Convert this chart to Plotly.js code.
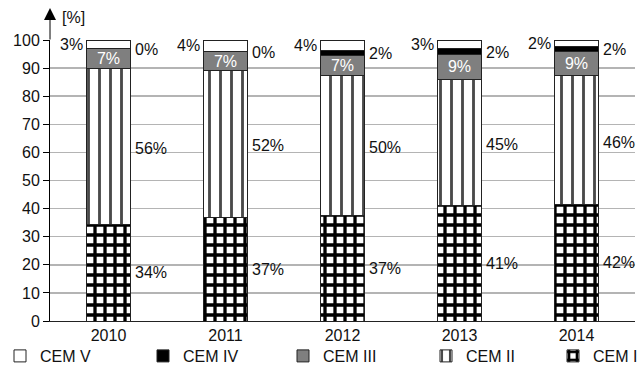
<!DOCTYPE html>
<html>
<head>
<meta charset="utf-8">
<script src="https://cdn.plot.ly/plotly-3.0.1.min.js"></script>
<style>html,body{margin:0;padding:0;background:#fff;}#chart{width:640px;height:373px;}</style>
</head>
<body>
<div id="chart"></div>
<script>
var years = ['2010', '2011', '2012', '2013', '2014'];
var cemI   = [34.2, 37.0, 37.4, 41.0, 41.6];
var cemII  = [55.6, 52.0, 50.0, 45.0, 45.6];
var cemIII = [7.2, 7.0, 7.0, 9.0, 8.6];
var cemIV  = [0.0, 0.0, 2.0, 2.0, 2.0];
var cemV   = [3.0, 4.0, 3.6, 3.0, 2.2];
var yTicks = [0, 10, 20, 30, 40, 50, 60, 70, 80, 90, 100];

var FONT = 'Liberation Sans, Arial, sans-serif';
var BARW = 0.376;
var outline = {color: '#222', width: 1};

function pct(v) { return Math.round(v) + '%'; }

var traces = [
  {name: 'CEM I', legend: 'legend5', type: 'bar', x: years, y: cemI, width: BARW,
   marker: {color: '#fff', line: outline, pattern: {shape: '+', fgcolor: '#000', bgcolor: '#fff', size: 10, solidity: 0.55}},
   textposition: 'none', hoverinfo: 'none'},
  {name: 'CEM II', legend: 'legend4', type: 'bar', x: years, y: cemII, width: BARW,
   marker: {color: '#fff', line: outline, pattern: {shape: '|', fgcolor: '#4a4a4a', bgcolor: '#fff', size: 11, solidity: 0.26}},
   textposition: 'none', hoverinfo: 'none'},
  {name: 'CEM III', legend: 'legend3', type: 'bar', x: years, y: cemIII, width: BARW,
   marker: {color: '#7f7f7f', line: outline},
   text: cemIII.map(pct), textposition: 'inside', insidetextanchor: 'middle', constraintext: 'none',
   textfont: {color: '#fff', size: 16, family: FONT}, hoverinfo: 'none'},
  {name: 'CEM IV', legend: 'legend2', type: 'bar', x: years, y: cemIV, width: BARW,
   marker: {color: '#000', line: outline},
   textposition: 'none', hoverinfo: 'none'},
  {name: 'CEM V', legend: 'legend', type: 'bar', x: years, y: cemV, width: BARW,
   marker: {color: '#fff', line: outline},
   textposition: 'none', hoverinfo: 'none'}
];

var ann = [];
years.forEach(function (yr, i) {
  var c1 = cemI[i], c2 = c1 + cemII[i], c3 = c2 + cemIII[i], c4 = c3 + cemIV[i];
  var right = i + BARW / 2, left = i - BARW / 2;
  var base = {xref: 'x', yref: 'y', showarrow: false, font: {size: 16, color: '#111', family: FONT}};
  ann.push(Object.assign({}, base, {x: right, y: c1 / 2, text: pct(cemI[i]), xanchor: 'left', xshift: 2, yanchor: 'middle'}));
  ann.push(Object.assign({}, base, {x: right, y: c1 + cemII[i] / 2, text: pct(cemII[i]), xanchor: 'left', xshift: 2, yanchor: 'middle', yshift: -2}));
  ann.push(Object.assign({}, base, {x: right, y: c3 + cemIV[i] / 2, text: pct(cemIV[i]), xanchor: 'left', xshift: 2, yanchor: 'middle', yshift: -1}));
  ann.push(Object.assign({}, base, {x: left, y: c4 + cemV[i] / 2, text: pct(cemV[i]), xanchor: 'right', xshift: -2, yanchor: 'middle'}));
});
// y-axis arrow and unit
ann.push({xref: 'paper', yref: 'paper', x: 0, y: 1 + 32 / 281, ax: 0, ay: 33, axref: 'pixel', ayref: 'pixel',
  showarrow: true, arrowhead: 2, arrowsize: 2.4, arrowwidth: 1, arrowcolor: '#000', text: '', standoff: 0});
ann.push({xref: 'paper', yref: 'paper', x: 0, y: 1, xanchor: 'left', yanchor: 'bottom', xshift: 10, yshift: 12,
  text: '[%]', showarrow: false, font: {size: 16, color: '#111', family: FONT}});

function legendAt(px) {
  return {orientation: 'h', xref: 'container', yref: 'container', x: px / 640, xanchor: 'left',
          y: 17 / 373, yanchor: 'middle', bgcolor: 'rgba(0,0,0,0)',
          font: {size: 16, family: FONT, color: '#111'}, itemclick: false};
}

var layout = {
  width: 640, height: 373,
  margin: {l: 50, r: 5, t: 40, b: 52},
  paper_bgcolor: '#fff', plot_bgcolor: '#fff',
  barmode: 'stack',
  showlegend: true,
  font: {family: FONT, size: 16, color: '#111'},
  xaxis: {type: 'category', range: [-0.5, 4.5], showline: true, linecolor: '#222', linewidth: 1,
          showgrid: false, ticks: '', tickfont: {size: 16, family: FONT, color: '#111'}, fixedrange: true},
  yaxis: {range: [0, 100], tickvals: yTicks, showline: true, linecolor: '#000', linewidth: 1,
          showgrid: true, gridcolor: '#b4b4b4', gridwidth: 1.5, zeroline: false,
          ticks: 'outside', ticklen: 6, tickcolor: '#000', tickfont: {size: 16, family: FONT, color: '#111'}, fixedrange: true},
  legend: legendAt(0),
  legend2: legendAt(143),
  legend3: legendAt(283),
  legend4: legendAt(426),
  legend5: legendAt(553),
  annotations: ann
};

Plotly.newPlot('chart', traces, layout, {displayModeBar: false, staticPlot: true});
</script>
</body>
</html>
